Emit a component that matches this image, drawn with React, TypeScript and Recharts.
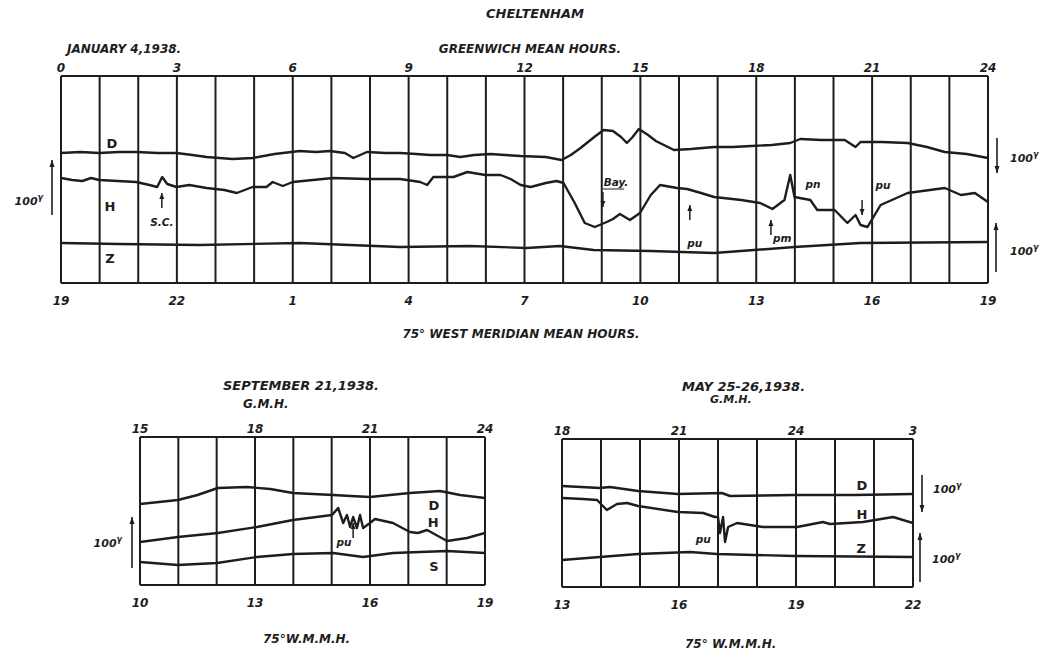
import React from "react";
import { LineChart, Line, XAxis, YAxis, ReferenceLine, ReferenceDot } from "recharts";

// Cheltenham magnetograms, 1938. Trace heights are read off the plate
// (units = plate height above the lower frame line).

const INK = "#1d1d1d";
const FONT = '"DejaVu Sans", "Liberation Sans", sans-serif';

// ---- January 4, 1938 ----
const janGrid = [0, 1, 2, 3, 4, 5, 6, 7, 8, 9, 10, 11, 12, 13, 14, 15, 16, 17, 18, 19, 20, 21, 22, 23, 24];
const janGmtTicks = [0, 3, 6, 9, 12, 15, 18, 21, 24];
const janGmtLabels = ["0", "3", "6", "9", "12", "15", "18", "21", "24"];
const janLocalLabels = ["19", "22", "1", "4", "7", "10", "13", "16", "19"];

const janD = [
  [0, 130], [0.5, 131], [0.99, 130], [1.5, 131], [1.95, 131], [2.5, 130], [2.99, 130], [3.4, 128],
  [3.77, 126], [4.1, 125], [4.44, 124], [4.96, 125], [5.53, 129], [6.18, 132], [6.6, 131], [6.96, 132],
  [7.35, 130], [7.57, 125], [7.92, 131], [8.4, 130], [8.78, 130], [9.2, 129], [9.56, 128], [10.0, 128],
  [10.34, 126], [10.7, 128], [11.12, 129], [11.5, 128], [11.9, 127], [12.55, 126], [12.96, 123],
  [13.2, 128], [13.45, 135], [13.84, 147], [14.05, 153], [14.29, 152], [14.5, 146], [14.65, 140],
  [14.8, 146], [14.96, 154], [15.2, 148], [15.4, 142], [15.87, 133], [16.31, 134], [16.91, 136],
  [17.4, 136], [17.87, 137], [18.4, 138], [18.88, 140], [19.14, 144], [19.69, 143], [20.29, 143],
  [20.57, 136], [20.7, 141], [21.25, 141], [21.92, 140], [22.42, 136], [22.88, 131], [23.45, 129], [24, 125],
];
const janH = [
  [0, 105], [0.29, 103], [0.55, 102], [0.78, 105], [0.99, 103], [1.95, 101], [2.29, 98], [2.49, 96],
  [2.62, 106], [2.75, 99], [2.99, 96], [3.32, 98], [3.77, 95], [4.23, 93], [4.55, 90], [4.96, 96],
  [5.32, 96], [5.48, 101], [5.74, 97], [6.0, 101], [7.04, 105], [7.92, 104], [8.78, 104], [9.3, 101],
  [9.48, 98], [9.64, 106], [10.16, 106], [10.52, 111], [10.99, 108], [11.38, 108], [11.64, 104],
  [11.9, 98], [12.16, 96], [12.55, 100], [12.83, 102], [13.01, 100], [13.3, 80], [13.56, 60],
  [13.82, 56], [14.13, 61], [14.29, 64], [14.47, 69], [14.73, 63], [14.99, 70], [15.27, 88],
  [15.51, 98], [15.95, 95], [16.21, 94], [16.57, 90], [16.91, 86], [17.61, 83], [18.1, 80],
  [18.42, 74], [18.73, 83], [18.88, 108], [18.99, 86], [19.4, 83], [19.58, 73], [20.03, 73],
  [20.36, 60], [20.57, 68], [20.7, 58], [20.88, 56], [21.22, 78], [21.92, 90], [22.88, 95],
  [23.3, 88], [23.66, 90], [24, 81],
];
const janZ = [
  [0, 40], [1.5, 39], [3.58, 38], [6.18, 40], [8.78, 36], [10.6, 37], [12.05, 35], [12.91, 37],
  [13.79, 33], [15.27, 32], [16.91, 30], [18.99, 36], [20.7, 40], [24, 41],
];

// ---- September 21, 1938 ----
const sepGrid = [15, 16, 17, 18, 19, 20, 21, 22, 23, 24];
const sepGmtTicks = [15, 18, 21, 24];
const sepGmtLabels = ["15", "18", "21", "24"];
const sepLocalLabels = ["10", "13", "16", "19"];

const sepD = [
  [15, 81], [15.99, 85], [16.5, 90], [17.03, 97], [17.79, 98], [18.4, 96], [18.99, 92], [20.04, 90],
  [20.5, 89], [21.0, 88], [22.04, 92], [22.83, 94], [23.35, 90], [24, 87],
];
const sepH = [
  [15, 43], [15.99, 48], [17.03, 52], [18.05, 58], [18.99, 65], [20.01, 70], [20.17, 77], [20.3, 62],
  [20.4, 70], [20.48, 58], [20.56, 68], [20.66, 57], [20.74, 70], [20.82, 57], [21.0, 62], [21.13, 66],
  [21.6, 62], [22.04, 53], [22.25, 52], [22.49, 55], [23.01, 44], [23.53, 47], [24, 52],
];
const sepZ = [
  [15, 23], [15.99, 20], [16.5, 21], [17.01, 22], [18.05, 28], [18.99, 31], [20.04, 32], [20.82, 28],
  [21.6, 32], [23.01, 34], [24, 32],
];

// ---- May 25-26, 1938 ----
const mayGrid = [18, 19, 20, 21, 22, 23, 24, 25, 26, 27];
const mayGmtTicks = [18, 21, 24, 27];
const mayGmtLabels = ["18", "21", "24", "3"];
const mayLocalLabels = ["13", "16", "19", "22"];

const mayD = [
  [18, 101], [18.97, 99], [19.23, 100], [19.95, 96], [20.97, 93], [22.1, 94], [22.31, 91], [23.97, 92],
  [25.5, 92], [27, 93],
];
const mayH = [
  [18, 89], [18.54, 88], [18.9, 87], [19.15, 77], [19.41, 83], [19.67, 84], [19.95, 81], [20.97, 75],
  [21.62, 74], [21.92, 70], [22.0, 70], [22.05, 54], [22.13, 70], [22.18, 45], [22.26, 60], [22.49, 64],
  [23.15, 60], [24.03, 60], [24.69, 65], [24.87, 63], [25.72, 65], [26.49, 70], [27, 64],
];
const mayZ = [
  [18, 27], [18.97, 30], [19.95, 33], [21.28, 35], [21.97, 33], [23.97, 31], [27, 30],
];

// annotations in trace coordinates [hour, height, text]
const janNotes: [number, number, string][] = [
  [1.32, 140, "D"], [1.27, 77, "H"], [1.27, 25, "Z"], [2.61, 61, "S.C."], [14.37, 101, "Bay."],
  [16.41, 40, "pu"], [18.67, 45, "pm"], [19.47, 99, "pn"], [21.28, 98, "pu"],
];
const janArrows: [number, number, number][] = [
  [2.61, 90, 1], [14.03, 76, -1], [16.28, 78, 1], [18.38, 63, 1], [20.74, 68, -1],
];
const sepNotes: [number, number, string][] = [
  [22.67, 80, "D"], [22.65, 63, "H"], [22.67, 19, "S"], [20.32, 43, "pu"],
];
const sepArrows: [number, number, number][] = [[20.56, 62, 1]];
const mayNotes: [number, number, string][] = [
  [25.69, 102, "D"], [25.69, 73, "H"], [25.67, 39, "Z"], [21.62, 48, "pu"],
];

const pts = (rows: number[][]) => rows.map(([h, v]) => ({ h, v }));

const makeTick = (labels: string[], dy: number) => (p: any) => (
  <text x={p.x} y={p.y + dy} textAnchor="middle" fill={INK} fontFamily={FONT}
    fontStyle="italic" fontWeight="bold" fontSize={12}>
    {labels[p.index]}
  </text>
);

const noteShape = (t: string) => (p: any) => {
  const big = t.length === 1;
  return (
    <g>
      <text x={p.cx} y={p.cy + (big ? 5 : 4)} textAnchor="middle" fill={INK} fontFamily={FONT}
        fontStyle={big ? "normal" : "italic"} fontWeight="bold" fontSize={big ? 13 : 10.5}>
        {t}
      </text>
      {t === "Bay." && (
        <line x1={p.cx - 13} x2={p.cx + 8} y1={p.cy + 7} y2={p.cy + 7} stroke={INK} strokeWidth={1} />
      )}
    </g>
  );
};

const arrowShape = (dir: number) => (p: any) => {
  const { cx, cy } = p;
  const len = 15;
  return (
    <g>
      <line x1={cx} y1={cy + dir * len} x2={cx} y2={cy} stroke={INK} strokeWidth={1.5} />
      <path d={`M${cx - 2.5},${cy + dir * 6} L${cx},${cy} L${cx + 2.5},${cy + dir * 6} Z`} fill={INK} />
    </g>
  );
};

type PanelProps = {
  left: number; top: number; width: number; height: number;
  margin: { top: number; right: number; bottom: number; left: number };
  domain: [number, number]; yMax: number;
  grid: number[]; ticks: number[]; gmtLabels: string[]; localLabels: string[];
  series: { h: number; v: number }[][];
  notes: [number, number, string][]; arrows: [number, number, number][];
};

function Panel(props: PanelProps) {
  const { left, top, width, height, margin, domain, yMax, grid, ticks, gmtLabels, localLabels, series, notes, arrows } = props;
  return (
    <div style={{ position: "absolute", left, top }}>
      <LineChart width={width} height={height} margin={margin}>
        <XAxis xAxisId="gmt" orientation="top" type="number" dataKey="h" domain={domain} allowDataOverflow
          ticks={ticks} interval={0} height={20} tickSize={0} tickMargin={0} tickLine={false}
          axisLine={{ stroke: INK, strokeWidth: 2.2 }} tick={makeTick(gmtLabels, -4)} />
        <XAxis xAxisId="loc" orientation="bottom" type="number" dataKey="h" domain={domain} allowDataOverflow
          ticks={ticks} interval={0} height={30} tickSize={0} tickMargin={0} tickLine={false}
          axisLine={{ stroke: INK, strokeWidth: 2.2 }} tick={makeTick(localLabels, 22)} />
        <YAxis hide type="number" domain={[0, yMax]} allowDataOverflow />
        {grid.map((g) => (
          <ReferenceLine key={`g${g}`} xAxisId="gmt" x={g} stroke={INK} strokeWidth={2} />
        ))}
        {series.map((s, i) => (
          // the lowest trace is tied to the local-time axis (same span) so that axis gets its ticks
          <Line key={`s${i}`} xAxisId={i === series.length - 1 ? "loc" : "gmt"} data={s} dataKey="v"
            type="linear" dot={false} stroke={INK} strokeWidth={2.4} strokeLinejoin="round"
            isAnimationActive={false} />
        ))}
        {notes.map(([h, v, t], i) => (
          <ReferenceDot key={`n${i}`} xAxisId="gmt" x={h} y={v} r={0} shape={noteShape(t)} />
        ))}
        {arrows.map(([h, v, d], i) => (
          <ReferenceDot key={`a${i}`} xAxisId="gmt" x={h} y={v} r={0} shape={arrowShape(d)} />
        ))}
      </LineChart>
    </div>
  );
}

const txt = { fill: INK, fontFamily: FONT, fontStyle: "italic" as const, fontWeight: "bold" as const };

function Gamma({ x, y, anchor }: { x: number; y: number; anchor: "start" | "end" }) {
  return (
    <text x={x} y={y} textAnchor={anchor} {...txt} fontSize={11}>
      100<tspan dy={-5} fontSize={8}>γ</tspan>
    </text>
  );
}

function ScaleBar({ x, y1, y2, up }: { x: number; y1: number; y2: number; up: boolean }) {
  const hy = up ? y1 : y2;
  const s = up ? 1 : -1;
  return (
    <g>
      <line x1={x} x2={x} y1={y1} y2={y2} stroke={INK} strokeWidth={1.6} />
      <path d={`M${x - 2.5},${hy + s * 7} L${x},${hy} L${x + 2.5},${hy + s * 7} Z`} fill={INK} />
    </g>
  );
}

export default function App() {
  return (
    <div style={{ position: "absolute", left: 0, top: 0, width: 1056, height: 653, background: "#fff" }}>
      <Panel left={0} top={0} width={1056} height={340}
        margin={{ top: 56, right: 68, bottom: 27, left: 61 }}
        domain={[0, 24]} yMax={207} grid={janGrid} ticks={janGmtTicks}
        gmtLabels={janGmtLabels} localLabels={janLocalLabels}
        series={[pts(janD), pts(janH), pts(janZ)]} notes={janNotes} arrows={janArrows} />
      <Panel left={0} top={410} width={520} height={220}
        margin={{ top: 7, right: 35, bottom: 15, left: 140 }}
        domain={[15, 24]} yMax={148} grid={sepGrid} ticks={sepGmtTicks}
        gmtLabels={sepGmtLabels} localLabels={sepLocalLabels}
        series={[pts(sepD), pts(sepH), pts(sepZ)]} notes={sepNotes} arrows={sepArrows} />
      <Panel left={530} top={410} width={526} height={220}
        margin={{ top: 9, right: 143, bottom: 13, left: 32 }}
        domain={[18, 27]} yMax={148} grid={mayGrid} ticks={mayGmtTicks}
        gmtLabels={mayGmtLabels} localLabels={mayLocalLabels}
        series={[pts(mayD), pts(mayH), pts(mayZ)]} notes={mayNotes} arrows={[]} />

      <svg width={1056} height={653} style={{ position: "absolute", left: 0, top: 0, pointerEvents: "none" }}>
        <text x={535} y={18} textAnchor="middle" {...txt} fontSize={13}>CHELTENHAM</text>
        <text x={67} y={53} {...txt} fontSize={12}>JANUARY 4,1938.</text>
        <text x={530} y={53} textAnchor="middle" {...txt} fontSize={12}>GREENWICH MEAN HOURS.</text>
        <text x={521} y={338} textAnchor="middle" {...txt} fontSize={12}>75° WEST MERIDIAN MEAN HOURS.</text>

        <text x={223} y={390} {...txt} fontSize={13}>SEPTEMBER 21,1938.</text>
        <text x={243} y={408} {...txt} fontSize={12}>G.M.H.</text>
        <text x={263} y={643} {...txt} fontSize={12}>75°W.M.M.H.</text>

        <text x={682} y={391} {...txt} fontSize={13}>MAY 25-26,1938.</text>
        <text x={710} y={403} {...txt} fontSize={11}>G.M.H.</text>
        <text x={685} y={648} {...txt} fontSize={12}>75° W.M.M.H.</text>

        <ScaleBar x={52} y1={160} y2={215} up />
        <Gamma x={43} y={205} anchor="end" />
        <ScaleBar x={997} y1={138} y2={173} up={false} />
        <Gamma x={1010} y={162} anchor="start" />
        <ScaleBar x={996} y1={223} y2={272} up />
        <Gamma x={1010} y={255} anchor="start" />

        <ScaleBar x={132} y1={517} y2={568} up />
        <Gamma x={122} y={547} anchor="end" />
        <ScaleBar x={922} y1={475} y2={512} up={false} />
        <Gamma x={933} y={493} anchor="start" />
        <ScaleBar x={920} y1={533} y2={582} up />
        <Gamma x={932} y={563} anchor="start" />
      </svg>
    </div>
  );
}
